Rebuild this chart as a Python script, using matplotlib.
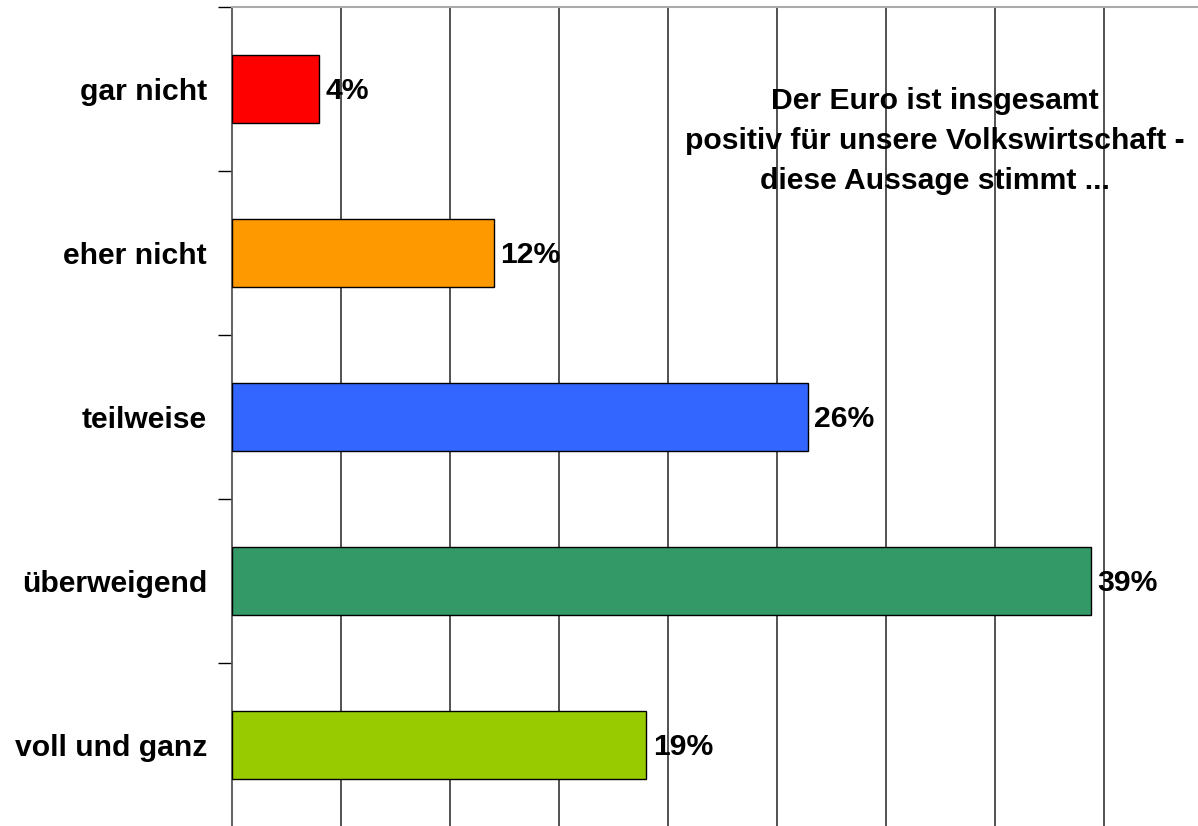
import matplotlib.pyplot as plt

categories = ['gar nicht', 'eher nicht', 'teilweise', 'überweigend', 'voll und ganz']
values = [4.0, 12.0, 26.4, 39.4, 19.0]
labels = ['4%', '12%', '26%', '39%', '19%']
colors = ['#FF0000', '#FF9900', '#3366FF', '#339966', '#99CC00']

plt.rcParams['font.family'] = ['Liberation Sans', 'DejaVu Sans']
plt.rcParams['font.weight'] = 'bold'

W, H = 1198, 826
fig = plt.figure(figsize=(W / 100, H / 100), dpi=100)
# plot area runs past the right and bottom edges of the picture
px_per_pct = 21.8
ax = fig.add_axes([232 / W, (H - 827) / H, 45 * px_per_pct / W, 820 / H])

ypos = list(range(len(categories)))
ax.barh(ypos, values, height=0.41, color=colors, edgecolor='black', linewidth=1, zorder=3)
for y, v, lab in zip(ypos, values, labels):
    ax.text(v + 0.3, y + 0.015, lab, va='center', ha='left', fontsize=21.7, fontweight='bold', zorder=4)

ax.set_xlim(0, 45)
ax.set_ylim(4.5, -0.5)
ax.set_xticks([5, 10, 15, 20, 25, 30, 35, 40])
ax.xaxis.grid(True, color='#333333', linewidth=1.2, zorder=0)
ax.tick_params(axis='x', length=0, labelbottom=False)

ax.set_yticks([-0.5, 0.5, 1.5, 2.5, 3.5, 4.5])
ax.set_yticklabels([])
ax.tick_params(axis='y', which='major', length=10, width=1, color='black')
ax.set_yticks(ypos, minor=True)
ax.set_yticklabels(categories, minor=True, fontsize=21.7, fontweight='bold')
ax.tick_params(axis='y', which='minor', length=0, pad=18)

for s in ['right', 'bottom']:
    ax.spines[s].set_visible(False)
ax.spines['top'].set_color('#aaaaaa')
ax.spines['top'].set_linewidth(1.5)
ax.spines['left'].set_color('#555555')
ax.spines['left'].set_linewidth(1.3)

fig.text(935 / W, 1 - 141 / H,
         'Der Euro ist insgesamt\npositiv für unsere Volkswirtschaft -\ndiese Aussage stimmt ...',
         ha='center', va='center', fontsize=21.7, fontweight='bold', linespacing=1.55)

fig.savefig('out.png', dpi=100)
